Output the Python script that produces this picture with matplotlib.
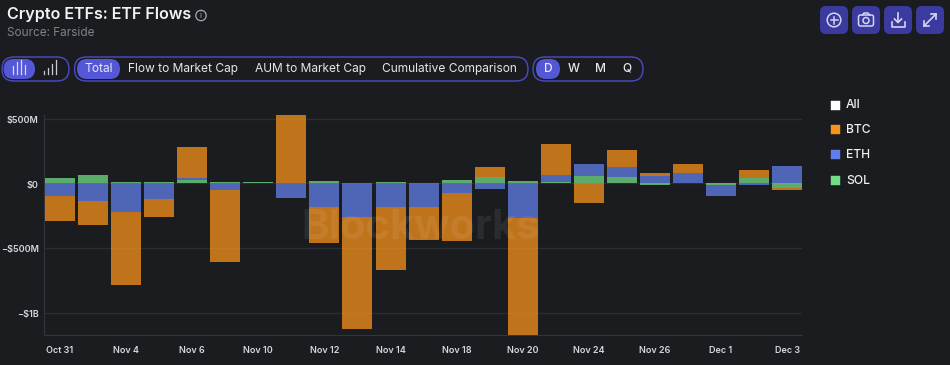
import numpy as np
import matplotlib
matplotlib.use('Agg')
import matplotlib.pyplot as plt
from matplotlib.patches import FancyBboxPatch, Rectangle, Circle
from matplotlib.transforms import ScaledTranslation

plt.rcParams['font.family'] = ['Inter', 'DejaVu Sans']

# Values in $M
dates = ['Oct 31', 'Nov 3', 'Nov 4', 'Nov 5', 'Nov 6', 'Nov 7', 'Nov 10', 'Nov 11',
         'Nov 12', 'Nov 13', 'Nov 14', 'Nov 17', 'Nov 18', 'Nov 19', 'Nov 20', 'Nov 21',
         'Nov 24', 'Nov 25', 'Nov 26', 'Nov 28', 'Dec 1', 'Dec 2', 'Dec 3']
sol = [41, 65, 10, 10, 26, 10, 9, 5, 18, 2, 10, 3, 26, 49, 18, 10, 57, 49, -13, 3, -13, 41, -36]
eth = [-98, -137, -219, -121, 15, -52, 0, -113, -183, -260, -183, -183, -75, -44, -268, 54,
       93, 77, 57, 77, -85, -13, 134]
btc = [-194, -186, -568, -139, 240, -557, 0, 524, -277, -868, -488, -256, -372, 77, -902, 240,
       -150, 132, 23, 70, 5, 62, -15]
tick_labels = ['Oct 31', 'Nov 4', 'Nov 6', 'Nov 10', 'Nov 12', 'Nov 14', 'Nov 18', 'Nov 20',
               'Nov 24', 'Nov 26', 'Dec 1', 'Dec 3']
y_ticks = [500, 0, -500, -1000]
y_labels = ['$500M', '$0', '\u2212$500M', '\u2212$1B']
legend_names = ['All', 'BTC', 'ETH', 'SOL']
legend_colors = ['#ffffff', '#f7931a', '#627eea', '#72dd85']

BG = '#1a1c20'
ACCENT = '#5457d6'
BORDER = '#4a4dc4'
W, H = 950, 365

fig = plt.figure(figsize=(W / 100, H / 100), dpi=100, facecolor=BG)

# chart area, placed in pixels
left, right, top, bottom = 44.3, 802, 115, 334.5
ax = fig.add_axes([left / W, 1 - bottom / H, (right - left) / W, (bottom - top) / H], facecolor=BG)

pos = np.zeros(len(dates))
neg = np.zeros(len(dates))
x = np.arange(len(dates))
for vals, color in [(sol, '#72dd85'), (eth, '#627eea'), (btc, '#f7931a')]:
    vals = np.array(vals, dtype=float)
    base = np.where(vals >= 0, pos, neg)
    ax.bar(x, vals, width=30 / 33.05, bottom=base, color=color, alpha=0.75, linewidth=0, zorder=3)
    pos += np.where(vals >= 0, vals, 0)
    neg += np.where(vals < 0, vals, 0)

ax.set_xlim(-0.476, 22.45)
ax.set_ylim(-1170, 530)
ax.set_yticks(y_ticks)
ax.set_yticklabels(y_labels, fontsize=6.5, fontweight='semibold', color='#d5d8de')
ax.set_xticks([dates.index(d) for d in tick_labels])
ax.set_xticklabels(tick_labels, fontsize=6.5, fontweight='semibold', color='#d5d8de')
ax.tick_params(axis='both', length=0)
ax.tick_params(axis='x', pad=8)
ax.tick_params(axis='y', pad=4)
# y labels sit a pixel below their grid lines
for lab in ax.get_yticklabels():
    lab.set_transform(lab.get_transform() + ScaledTranslation(0, -0.01, fig.dpi_scale_trans))
ax.grid(axis='y', color='#2b2d31', linewidth=1, zorder=1)
for s in ['top', 'right']:
    ax.spines[s].set_visible(False)
for s in ['left', 'bottom']:
    ax.spines[s].set_color('#33353a')

# watermark
ax.text(10.9, -346, 'Blockworks', fontsize=30, fontweight='bold', color='white', alpha=0.07,
        ha='center', va='center', zorder=5)

# overlay in pixel coordinates for the page furniture
ui = fig.add_axes([0, 0, 1, 1], facecolor='none')
ui.set_xlim(0, W)
ui.set_ylim(H, 0)
ui.axis('off')


def pill(x0, x1, y0, y1, face='none', edge='none', lw=1.0, rad=None):
    rad = (y1 - y0) / 2 if rad is None else rad
    ui.add_patch(FancyBboxPatch((x0 + rad, y0 + rad), x1 - x0 - 2 * rad, y1 - y0 - 2 * rad,
                                boxstyle='round,pad=%f,rounding_size=%f' % (rad, rad),
                                facecolor=face, edgecolor=edge, linewidth=lw))


ui.text(7, 15, 'Crypto ETFs: ETF Flows', fontsize=11.6, fontweight='semibold', color='#f2f3f5',
        va='center')
ui.text(7, 33.5, 'Source: Farside', fontsize=8.5, color='#7d828a', va='center')
ui.add_patch(Circle((201, 15.5), 5.2, facecolor='none', edgecolor='#a5a8ae', linewidth=0.9))
ui.text(201, 15.5, 'i', fontsize=6, color='#a5a8ae', ha='center', va='center')

# toggle groups
pill(2, 69, 57, 81, edge=BORDER)
pill(3.5, 35, 59, 79, face=ACCENT)
for bx, bh in zip([13, 17, 21, 25], [8, 12, 14, 9]):
    ui.plot([bx, bx], [74, 74 - bh], color='#d8daf5', lw=0.9)
for bx, bh in zip([44, 48, 52, 56], [3, 6, 10, 14]):
    ui.plot([bx, bx], [74, 74 - bh], color='#c9ccd2', lw=0.9)

pill(74.5, 528, 57, 81, edge=BORDER)
pill(77, 120, 59, 79, face=ACCENT)
ui.text(98.5, 69, 'Total', fontsize=8.6, color='#e8e9fa', ha='center', va='center')
ui.text(128, 69, 'Flow to Market Cap', fontsize=8.6, color='#e6e7ea', va='center')
ui.text(255, 69, 'AUM to Market Cap', fontsize=8.6, color='#e6e7ea', va='center')
ui.text(382, 69, 'Cumulative Comparison', fontsize=8.6, color='#e6e7ea', va='center')

pill(533, 643, 57, 81, edge=BORDER)
pill(536, 560, 59, 79, face=ACCENT)
for label, tx, col in [('D', 548, '#e8e9fa'), ('W', 574, '#e6e7ea'), ('M', 601, '#e6e7ea'), ('Q', 627, '#e6e7ea')]:
    ui.text(tx, 69, label, fontsize=8.6, fontweight='medium', color=col, ha='center', va='center')

# icon buttons
ICON = '#d4d5f2'
for bx in [820, 852, 884, 916]:
    pill(bx, bx + 28, 6, 34, face='#3a3a9f', rad=6)
ui.add_patch(Circle((834, 20), 6.8, facecolor='none', edgecolor=ICON, linewidth=1.1))
ui.plot([830.5, 837.5], [20, 20], color=ICON, lw=1.1)
ui.plot([834, 834], [16.5, 23.5], color=ICON, lw=1.1)
pill(858.5, 873.5, 15, 26, edge=ICON, lw=1.1, rad=2)
ui.plot([862.5, 864, 868, 869.5], [15, 13, 13, 15], color=ICON, lw=1.1)
ui.add_patch(Circle((866, 20.5), 3, facecolor='none', edgecolor=ICON, linewidth=1.1))
ui.plot([898, 898], [13, 22], color=ICON, lw=1.2)
ui.plot([894.5, 898, 901.5], [19, 22.5, 19], color=ICON, lw=1.2)
ui.plot([891.5, 891.5, 904.5, 904.5], [22, 26.5, 26.5, 22], color=ICON, lw=1.2)
ui.plot([924, 936], [26, 14], color=ICON, lw=1.2)
ui.plot([924, 924, 929], [21, 26, 26], color=ICON, lw=1.2)
ui.plot([931, 936, 936], [14, 14, 19], color=ICON, lw=1.2)

# legend
for name, col, ly in zip(legend_names, legend_colors, [105, 129.5, 154.5, 180]):
    ui.add_patch(Rectangle((831, ly - 4.5), 9, 9, facecolor=col, edgecolor=col, linewidth=0.3))
    ui.text(846, ly + 0.5, name, fontsize=8.7, fontweight='medium', color='#f0f1f3', va='center')

fig.savefig('out.png', dpi=100, facecolor=BG)
